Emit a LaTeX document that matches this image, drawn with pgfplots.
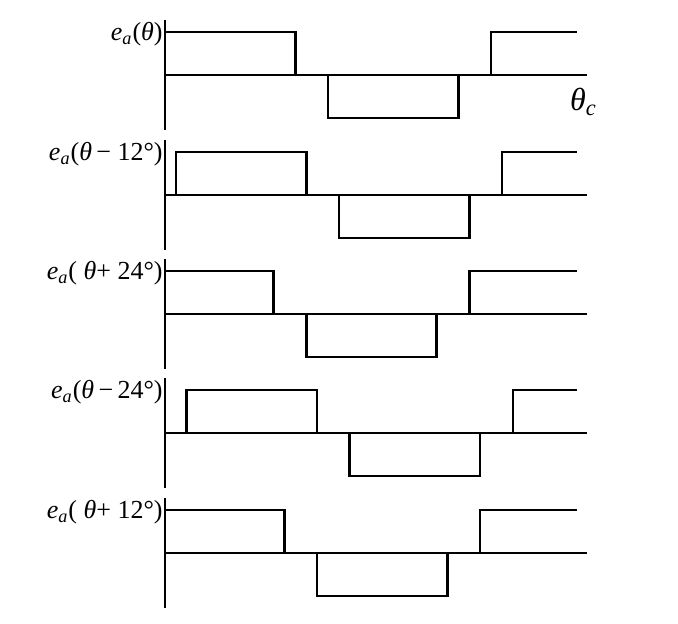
\documentclass[border=0pt]{standalone}
\usepackage{fontspec}
\setmainfont{Liberation Serif}
\usepackage{pgfplots}
\pgfplotsset{compat=1.18}
\pgfplotsset{
  panel/.style={
    scale only axis, width=211pt, height=55pt,
    xmin=0, xmax=466, ymin=-1.28, ymax=1.28,
    axis lines=none, clip=false, anchor=south west,
  },
  wave/.style={black, line width=1.25pt, line join=miter},
  thinline/.style={black, line width=0.55pt},
}
\newcommand{\lab}[1]{\fontsize{13}{15}\selectfont #1}
\begin{document}
\begin{tikzpicture}
\useasboundingbox (0,0) rectangle (339pt,312pt);
% Panel 1
\begin{axis}[panel, at={(82.5pt,247pt)}]
\addplot[thinline] coordinates {(0,0) (466,0)};
\addplot[thinline] coordinates {(0,-1.28) (0,1.28)};
\addplot[wave] coordinates {(0,1)(144,1)(144,0)(180,0)(180,-1)(324,-1)(324,0)(360,0)(360,1)(455,1)};
\node[anchor=east, inner sep=1pt] at (axis cs:0,0.95) {\lab{\textit{e}\textsubscript{\textit{a}}(\textit{θ})}};
\node[anchor=center, inner sep=0pt] at (axis cs:462,-0.62) {\lab{\fontsize{16}{18}\selectfont\textit{θ}\textsubscript{\textit{c}}}};
\end{axis}
% Panel 2
\begin{axis}[panel, at={(82.5pt,187pt)}]
\addplot[thinline] coordinates {(0,0) (466,0)};
\addplot[thinline] coordinates {(0,-1.28) (0,1.28)};
\addplot[wave] coordinates {(0,0)(12,0)(12,1)(156,1)(156,0)(192,0)(192,-1)(336,-1)(336,0)(372,0)(372,1)(455,1)};
\node[anchor=east, inner sep=1pt] at (axis cs:0,0.95) {\lab{\textit{e}\textsubscript{\textit{a}}(\textit{θ}\,− 12°)}};
\end{axis}
% Panel 3
\begin{axis}[panel, at={(82.5pt,127.5pt)}]
\addplot[thinline] coordinates {(0,0) (466,0)};
\addplot[thinline] coordinates {(0,-1.28) (0,1.28)};
\addplot[wave] coordinates {(0,1)(120,1)(120,0)(156,0)(156,-1)(300,-1)(300,0)(336,0)(336,1)(455,1)};
\node[anchor=east, inner sep=1pt] at (axis cs:0,0.95) {\lab{\textit{e}\textsubscript{\textit{a}}( \textit{θ}+ 24°)}};
\end{axis}
% Panel 4
\begin{axis}[panel, at={(82.5pt,68pt)}]
\addplot[thinline] coordinates {(0,0) (466,0)};
\addplot[thinline] coordinates {(0,-1.28) (0,1.28)};
\addplot[wave] coordinates {(0,0)(24,0)(24,1)(168,1)(168,0)(204,0)(204,-1)(348,-1)(348,0)(384,0)(384,1)(455,1)};
\node[anchor=east, inner sep=1pt] at (axis cs:0,0.95) {\lab{\textit{e}\textsubscript{\textit{a}}(\textit{θ}\,−\,24°)}};
\end{axis}
% Panel 5
\begin{axis}[panel, at={(82.5pt,8pt)}]
\addplot[thinline] coordinates {(0,0) (466,0)};
\addplot[thinline] coordinates {(0,-1.28) (0,1.28)};
\addplot[wave] coordinates {(0,1)(132,1)(132,0)(168,0)(168,-1)(312,-1)(312,0)(348,0)(348,1)(455,1)};
\node[anchor=east, inner sep=1pt] at (axis cs:0,0.95) {\lab{\textit{e}\textsubscript{\textit{a}}( \textit{θ}+ 12°)}};
\end{axis}
\end{tikzpicture}
\end{document}
